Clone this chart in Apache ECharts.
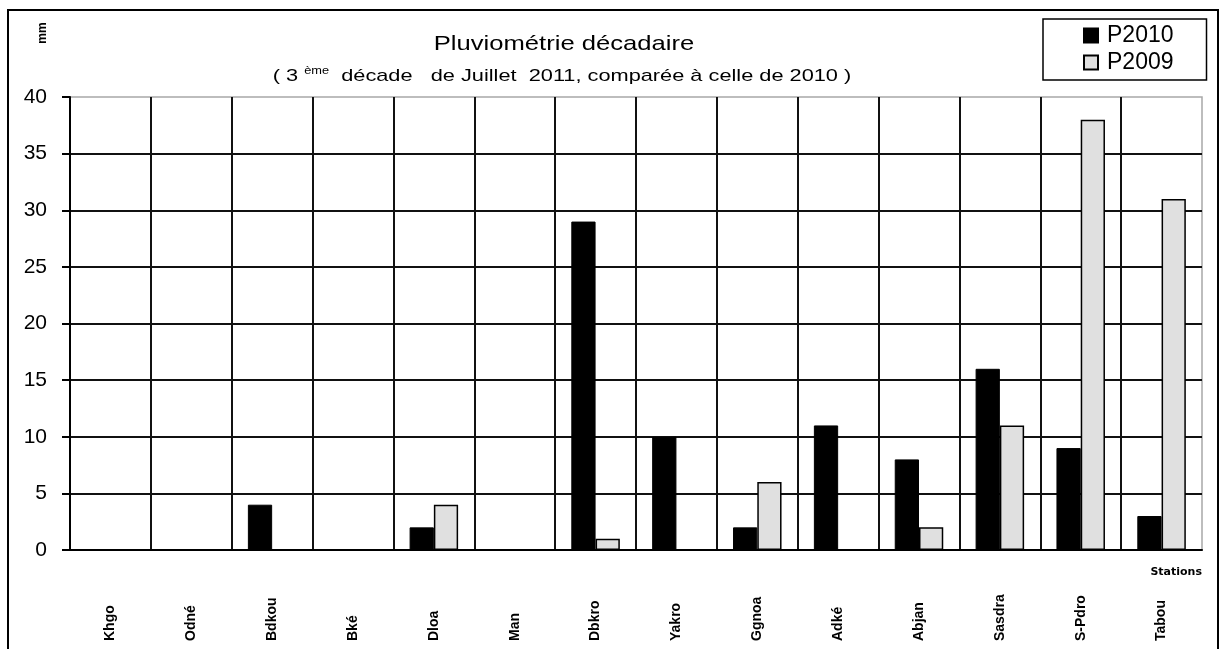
<!DOCTYPE html>
<html>
<head>
<meta charset="utf-8">
<script src="https://cdn.jsdelivr.net/npm/echarts@6/dist/echarts.min.js"></script>
<style>html,body{margin:0;padding:0;background:#fff;}#c{width:1231px;height:649px;}</style>
</head>
<body>
<div id="c"></div>
<script>
const stations = ["Khgo", "Odné", "Bdkou", "Bké", "Dloa", "Man", "Dbkro", "Yakro", "Ggnoa", "Adké", "Abjan", "Sasdra", "S-Pdro", "Tabou"];
const p2010 = [0, 0, 4, 0, 2, 0, 29, 10, 2, 11, 8, 16, 9, 3];
const p2009 = [0, 0, 0, 0, 4, 0, 1, 0, 6, 0, 2, 11, 38, 31];
const yTicks = [0, 5, 10, 15, 20, 25, 30, 35, 40];
const titleText = 'Pluviométrie décadaire';
const subtitleText = '( 3 {sup|ème}  décade   de Juillet  2011, comparée à celle de 2010 )';

const chart = echarts.init(document.getElementById('c'), null, {renderer: 'canvas'});
chart.setOption({
  animation: false,
  backgroundColor: '#fff',
  textStyle: {fontFamily: 'Liberation Sans, Arial, sans-serif'},
  legend: {
    orient: 'vertical', left: 1043, top: 19,
    data: ['P2010', 'P2009'],
    icon: 'rect',
    borderColor: '#000', borderWidth: 1.5, backgroundColor: '#fff',
    padding: [5, 33, 6, 40], itemGap: 4,
    itemWidth: 14, itemHeight: 14,
    textStyle: {fontSize: 23, color: '#000', fontFamily: 'Liberation Sans', padding: [0, 0, 0, 4]}
  },
  grid: {left: 70, right: 29, top: 97, bottom: 99, show: true, borderColor: '#a8a8a8', borderWidth: 1.5},
  xAxis: {
    type: 'category', data: stations,
    axisLine: {lineStyle: {color: '#000', width: 2}},
    axisTick: {length: 5, lineStyle: {color: '#000', width: 2}},
    splitLine: {show: true, showMaxLine: false, lineStyle: {color: '#111', width: 2}},
    axisLabel: {rotate: 90, align: 'left', verticalAlign: 'middle', margin: 91, interval: 0,
      fontSize: 14, fontWeight: 'bold', color: '#000', fontFamily: 'Liberation Sans'},
    name: 'Stations', nameLocation: 'end', nameGap: 0,
    nameTextStyle: {fontSize: 11, fontWeight: 'bold', color: '#000', fontFamily: 'DejaVu Sans', align: 'right', verticalAlign: 'top', padding: [17, 0, 0, 0]}
  },
  yAxis: {
    type: 'value', min: 0, max: 40, interval: 5,
    axisLine: {show: true, lineStyle: {color: '#000', width: 2}},
    axisTick: {show: true, length: 8, lineStyle: {color: '#000', width: 2}},
    splitLine: {show: true, showMaxLine: false, lineStyle: {color: '#111', width: 2}},
    axisLabel: {fontSize: 21, color: '#000', margin: 23, fontFamily: 'Liberation Sans',
      formatter: v => yTicks.includes(v) ? String(v) : ''}
  },
  graphic: [
    {type: 'rect', shape: {x: 8, y: 10, width: 1210, height: 660}, style: {fill: 'none', stroke: '#000', lineWidth: 2}, silent: true, z: -1},
    {type: 'text', x: 43, y: 33, rotation: Math.PI / 2,
     style: {text: 'mm', font: 'bold 12px Liberation Sans', fill: '#000', textAlign: 'center', textVerticalAlign: 'middle'}},
    {type: 'text', x: 564, y: 44, scaleX: 1.22,
     style: {text: titleText, font: '21px Liberation Sans', fill: '#000', textAlign: 'center', textVerticalAlign: 'middle'}},
    {type: 'text', x: 562, y: 76, scaleX: 1.28,
     style: {text: subtitleText, font: '17px Liberation Sans', fill: '#000', textAlign: 'center', textVerticalAlign: 'middle',
       rich: {sup: {font: '10px Liberation Sans', fill: '#000', padding: [0, 0, 9, 0]}}}}
  ],
  series: [
    {name: 'P2010', type: 'bar', data: p2010, barGap: '0%', barCategoryGap: '40%',
     itemStyle: {color: '#000', borderColor: '#000', borderWidth: 1}},
    {name: 'P2009', type: 'bar', data: p2009, barGap: '0%', barCategoryGap: '40%',
     itemStyle: {color: '#e0e0e0', borderColor: '#000', borderWidth: 1.5}}
  ]
});
</script>
</body>
</html>
